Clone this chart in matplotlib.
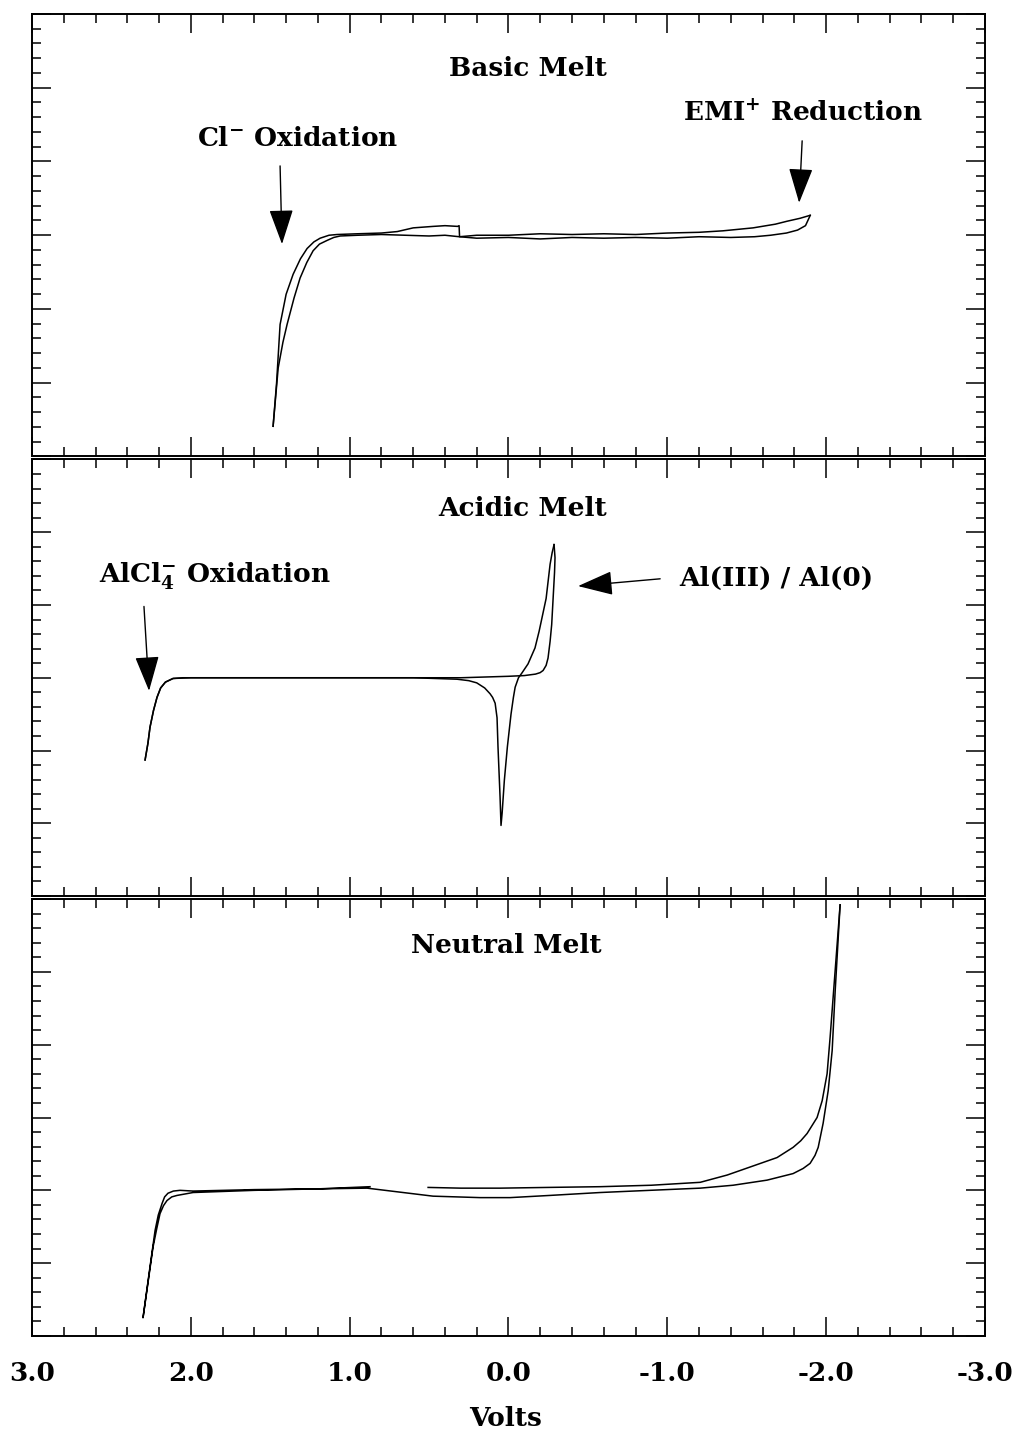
import matplotlib
matplotlib.use("Agg")
import matplotlib.pyplot as plt
from matplotlib.ticker import MultipleLocator, FixedLocator

plt.rcParams['font.family'] = 'DejaVu Serif'
plt.rcParams['font.weight'] = 'bold'
plt.rcParams['mathtext.fontset'] = 'custom'
plt.rcParams['mathtext.rm'] = 'DejaVu Serif:bold'
plt.rcParams['mathtext.it'] = 'DejaVu Serif:bold'
plt.rcParams['mathtext.bf'] = 'DejaVu Serif:bold'

# x tick positions and labels (volts)
volt_ticks = [3.0, 2.0, 1.0, 0.0, -1.0, -2.0, -3.0]
volt_labels = ['3.0', '2.0', '1.0', '0.0', '-1.0', '-2.0', '-3.0']

# Basic melt - two sweeps (current in arbitrary units)
basic_v1 = [1.482, 1.45, 1.42, 1.394, 1.35, 1.312, 1.27, 1.230, 1.19, 1.142, 1.10, 1.060, 0.95,
            0.80, 0.65, 0.50, 0.40, 0.31, 0.20, 0.00, -0.20, -0.40, -0.60, -0.80, -1.00, -1.20,
            -1.40, -1.55, -1.65, -1.75, -1.82, -1.87, -1.90]
basic_i1 = [0.41, 1.20, 1.55, 1.79, 2.15, 2.42, 2.63, 2.79, 2.88, 2.93, 2.97, 2.99, 3.00,
            3.01, 3.00, 2.99, 3.00, 2.98, 2.96, 2.97, 2.95, 2.97, 2.96, 2.97, 2.96, 2.98,
            2.97, 2.98, 3.00, 3.03, 3.07, 3.13, 3.27]
basic_v2 = [1.482, 1.46, 1.438, 1.40, 1.356, 1.31, 1.268, 1.225, 1.186, 1.13, 1.079, 0.95, 0.80,
            0.70, 0.60, 0.475, 0.40, 0.32, 0.311, 0.308, 0.20, 0.00, -0.20, -0.40, -0.60, -0.80,
            -1.00, -1.20, -1.35, -1.54, -1.68, -1.754, -1.836, -1.899]
basic_i2 = [0.41, 1.00, 1.79, 2.20, 2.47, 2.68, 2.82, 2.91, 2.96, 3.00, 3.01, 3.02, 3.03,
            3.05, 3.10, 3.12, 3.13, 3.12, 3.13, 2.98, 3.00, 3.00, 3.02, 3.01, 3.02, 3.01,
            3.03, 3.04, 3.06, 3.10, 3.15, 3.19, 3.23, 3.27]

# Acidic melt - forward and reverse sweeps
acid_v1 = [2.288, 2.27, 2.257, 2.235, 2.213, 2.19, 2.16, 2.112, 2.05, 1.5, 1.0, 0.5, 0.3,
           0.0, -0.10, -0.17, -0.199, -0.218, -0.237, -0.249, -0.262, -0.272, -0.281, -0.29,
           -0.293, -0.287]
acid_i1 = [1.87, 2.10, 2.32, 2.55, 2.73, 2.86, 2.94, 2.99, 3.00, 3.00, 3.00, 3.00, 3.00,
           3.02, 3.03, 3.05, 3.07, 3.10, 3.17, 3.27, 3.50, 3.73, 4.09, 4.45,
           4.65, 4.83]
acid_v2 = [-0.287, -0.275, -0.262, -0.237, -0.193, -0.167, -0.123, -0.086, -0.063, -0.042,
           -0.031, -0.016, 0.007, 0.026, 0.040, 0.047, 0.053, 0.066, 0.072, 0.084, 0.10, 0.116,
           0.15, 0.20, 0.25, 0.324, 0.6, 1.0, 1.5, 2.0, 2.112, 2.16, 2.19, 2.213, 2.235, 2.257,
           2.27, 2.288]
acid_i2 = [4.83, 4.72, 4.56, 4.09, 3.64, 3.41, 3.19, 3.07, 3.00, 2.87,
           2.73, 2.50, 2.05, 1.59, 1.14, 0.97, 1.36, 2.05, 2.45, 2.65, 2.73, 2.78,
           2.86, 2.93, 2.96, 2.98, 3.0, 3.0, 3.0, 3.0, 2.99, 2.94, 2.86, 2.73, 2.55, 2.32,
           2.10, 1.87]

# Neutral melt
neut_v1 = [0.506, 0.30, 0.053, -0.25, -0.577, -0.90, -1.207, -1.377, -1.521, -1.691, -1.792,
           -1.840, -1.880, -1.943, -1.975, -2.006, -2.025, -2.088]
neut_i1 = [2.04, 2.03, 2.03, 2.04, 2.05, 2.07, 2.11, 2.21, 2.32, 2.45, 2.59,
           2.68, 2.78, 3.00, 3.23, 3.60, 4.10, 5.92]
neut_v2 = [-2.088, -2.057, -2.038, -2.013, -1.981, -1.950, -1.93, -1.899, -1.855, -1.792,
           -1.628, -1.414, -1.207, -0.89, -0.577, -0.26, -0.01, 0.179, 0.475, 0.89, 1.2, 1.6,
           1.986, 2.068, 2.11, 2.144, 2.165, 2.181, 2.205, 2.225, 2.257, 2.301, 2.238, 2.215,
           2.194, 2.172, 2.150, 2.12, 2.087, 1.986, 1.6, 1.2, 0.872]
neut_i2 = [5.92, 4.74, 3.92, 3.37, 2.92, 2.59, 2.48, 2.37, 2.30, 2.23,
           2.14, 2.07, 2.03, 2.00, 1.97, 1.93, 1.90, 1.90, 1.92, 2.03, 2.02, 2.01,
           1.99, 2.00, 1.99, 1.96, 1.91, 1.82, 1.66, 1.45, 0.95, 0.25, 1.22, 1.47,
           1.68, 1.79, 1.86, 1.91, 1.93, 1.97, 2.00, 2.02, 2.05]

fig = plt.figure(figsize=(10.19, 14.34), dpi=100)
left, width = 0.0314, 0.9352
ax1 = fig.add_axes([left, 0.68166, width, 0.30858])
ax2 = fig.add_axes([left, 0.37517, width, 0.30440])
ax3 = fig.add_axes([left, 0.06834, width, 0.30474])

for ax in (ax1, ax2, ax3):
    ax.set_xlim(3.0, -3.0)
    ax.set_ylim(0, 6)
    ax.xaxis.set_major_locator(FixedLocator(volt_ticks))
    ax.xaxis.set_minor_locator(MultipleLocator(0.2))
    ax.yaxis.set_major_locator(MultipleLocator(1))
    ax.yaxis.set_minor_locator(MultipleLocator(0.2))
    ax.tick_params(which='both', direction='in', top=True, right=True, width=1.1, color='k')
    ax.tick_params(which='major', length=14)
    ax.tick_params(which='minor', length=6.5)
    ax.tick_params(axis='y', labelleft=False)
    ax.tick_params(axis='x', labelbottom=False)
    for s in ax.spines.values():
        s.set_linewidth(1.4)

ax3.tick_params(axis='x', labelbottom=True, labelsize=19, pad=18)
ax3.set_xticklabels(volt_labels)

# curves
ax1.plot(basic_v1, basic_i1, color='k', lw=1.1)
ax1.plot(basic_v2, basic_i2, color='k', lw=1.1)
ax2.plot(acid_v1, acid_i1, color='k', lw=1.1)
ax2.plot(acid_v2, acid_i2, color='k', lw=1.1)
ax3.plot(neut_v1, neut_i1, color='k', lw=1.1)
ax3.plot(neut_v2, neut_i2, color='k', lw=1.1)

fs = 19
arrow = dict(arrowstyle='-|>,head_length=1.1,head_width=0.38', color='k', lw=1.0,
             mutation_scale=20, shrinkA=0, shrinkB=0)

ax1.text(-0.123, 5.26, 'Basic Melt', ha='center', va='center', fontsize=fs, fontweight='bold')
ax1.text(1.331, 4.31, r'Cl$^{-}$ Oxidation', ha='center', va='center', fontsize=fs, fontweight='bold')
ax1.text(-1.855, 4.66, r'EMI$^{+}$ Reduction', ha='center', va='center', fontsize=fs, fontweight='bold')
ax1.annotate('', xy=(1.426, 2.88), xytext=(1.438, 3.94), arrowprops=arrow)
ax1.annotate('', xy=(-1.830, 3.44), xytext=(-1.849, 4.28), arrowprops=arrow)

ax2.text(-0.086, 5.32, 'Acidic Melt', ha='center', va='center', fontsize=fs, fontweight='bold')
ax2.text(1.848, 4.40, r'AlCl$_4^{-}$ Oxidation', ha='center', va='center', fontsize=fs, fontweight='bold')
ax2.text(-1.685, 4.36, 'Al(III) / Al(0)', ha='center', va='center', fontsize=fs, fontweight='bold')
ax2.annotate('', xy=(2.263, 2.82), xytext=(2.295, 3.98), arrowprops=arrow)
ax2.annotate('', xy=(-0.438, 4.26), xytext=(-0.955, 4.36), arrowprops=arrow)

ax3.text(0.015, 5.36, 'Neutral Melt', ha='center', va='center', fontsize=fs, fontweight='bold')

fig.text(0.496, 1 - 1418 / 1434, 'Volts', ha='center', va='center', fontsize=fs, fontweight='bold')

fig.savefig('out.png', dpi=100)
